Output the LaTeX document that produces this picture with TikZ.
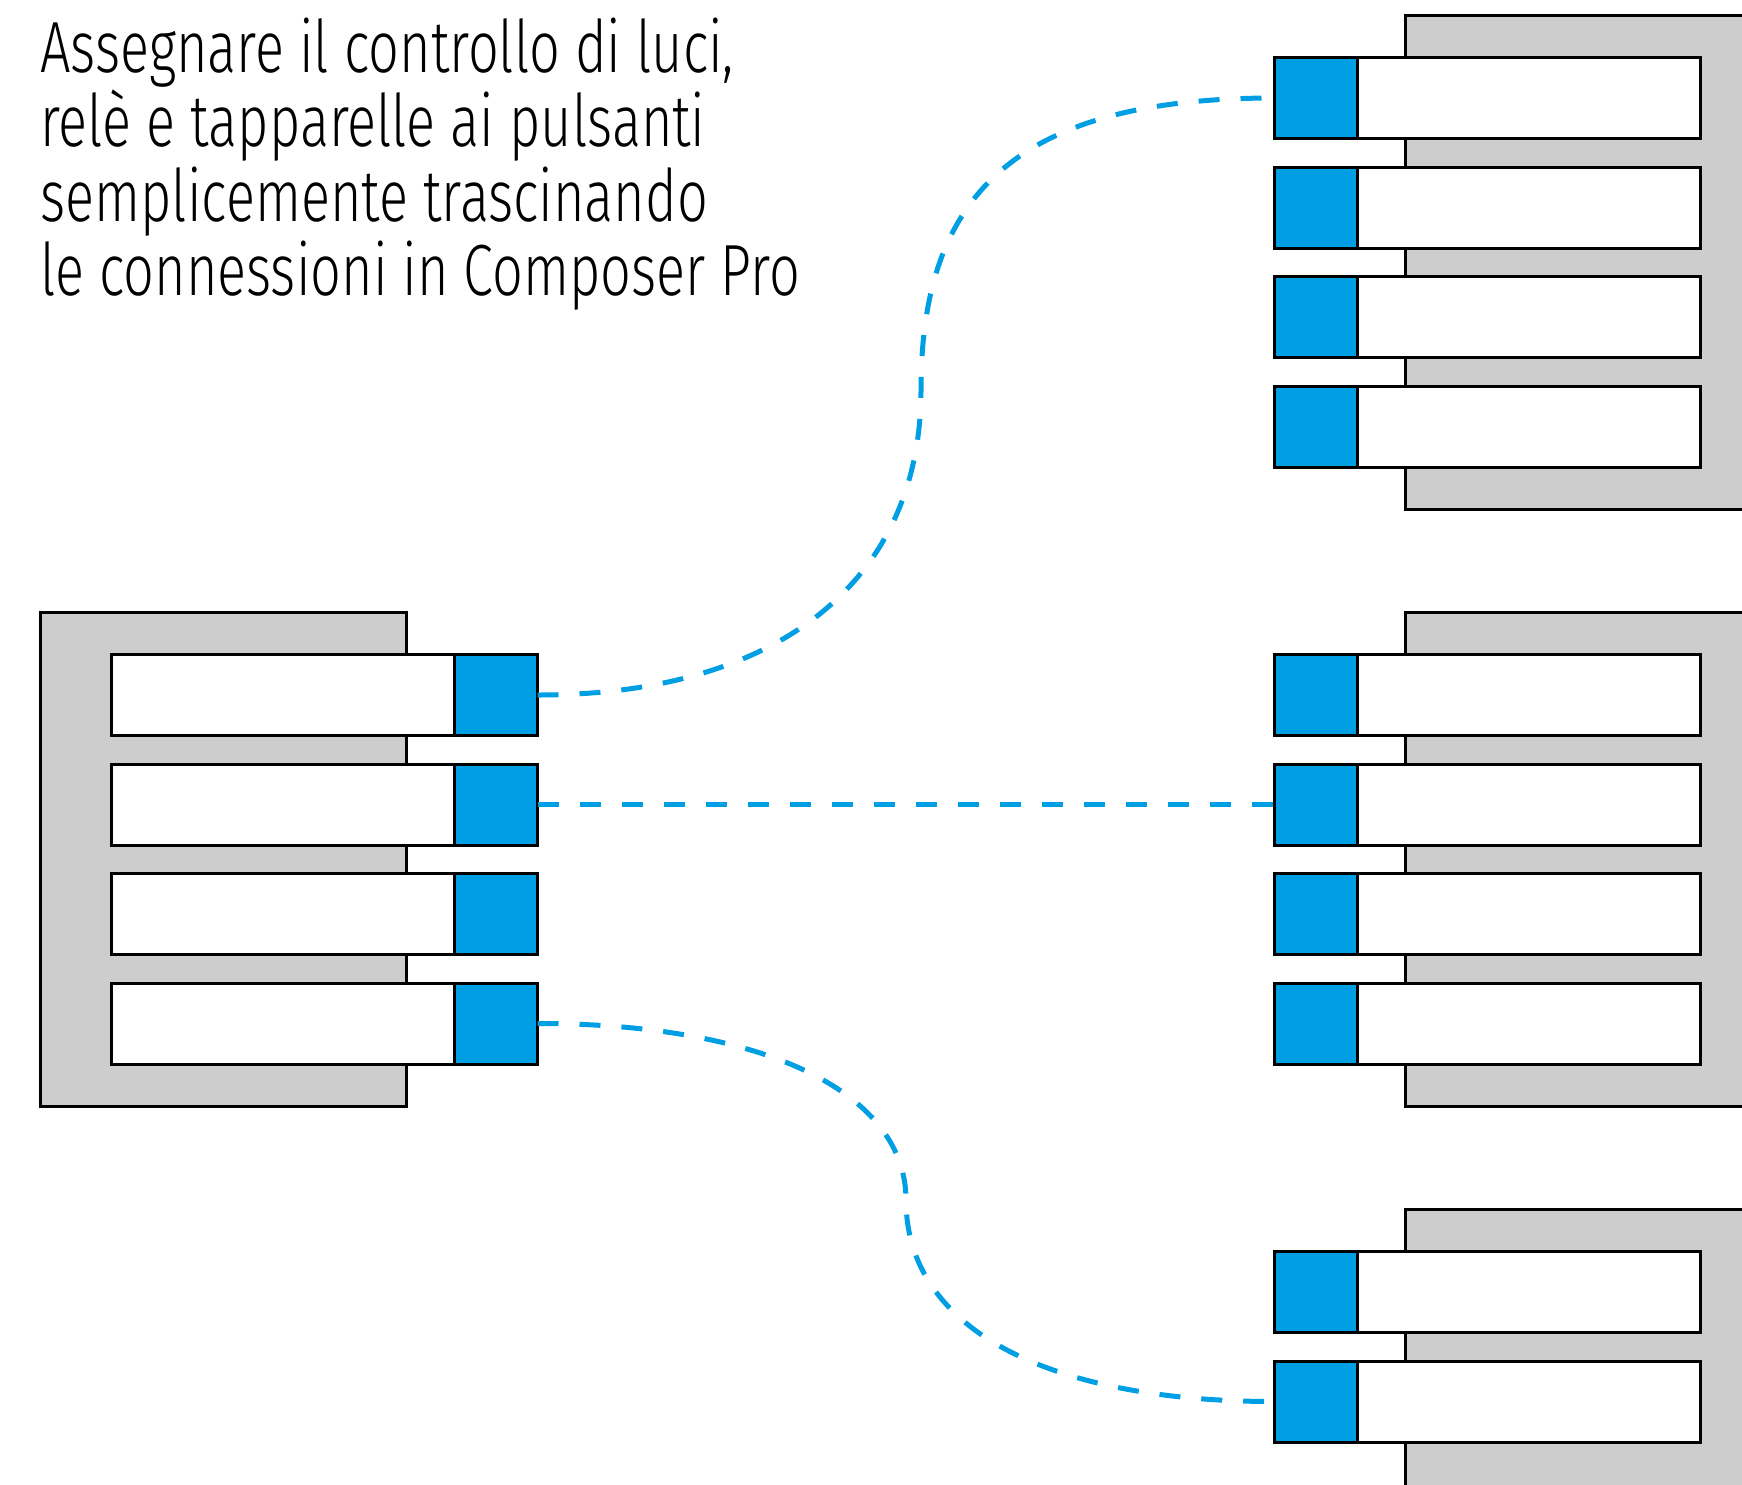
\documentclass[tikz,border=0pt]{standalone}
\usepackage{fontspec}
\IfFontExistsTF{Fira Sans Light}
  {\setmainfont{Fira Sans Light}[FakeStretch=0.745]}
  {\setmainfont{Fira Sans}[FakeStretch=0.745]}
\definecolor{cblue}{HTML}{009FE3}
\definecolor{cgray}{HTML}{CDCDCD}
\tikzset{
  frame/.style={fill=cgray, draw=black, line width=3pt},
  whitebar/.style={rectangle, anchor=north west, inner sep=0pt, outer sep=0pt, minimum width=343pt, minimum height=81pt, fill=white, draw=black, line width=3pt},
  bluebox/.style={rectangle, anchor=north west, inner sep=0pt, outer sep=0pt, minimum width=83pt, minimum height=81pt, fill=cblue, draw=black, line width=3pt},
  conn/.style={draw=cblue, line width=5pt, dash pattern=on 21pt off 21pt},
  txt/.style={anchor=base west, inner sep=0pt, font=\fontsize{72.5}{75}\selectfont}
}
\begin{document}
\begin{tikzpicture}[x=1pt,y=-1pt]
\useasboundingbox (0,0) rectangle (1742,1484);
\begin{scope}
\clip (0,0) rectangle (1742,1484);
% frames
\draw[frame] (40,612.5) rectangle (406.5,1106.5);
\draw[frame] (1405.5,15.5) rectangle (1770,509.5);
\draw[frame] (1405.5,612.5) rectangle (1770,1106.5);
\draw[frame] (1405.5,1209.5) rectangle (1770,1703.5);
% left module bars
\foreach \i in {1,...,4} {
  \node[whitebar] (Lw\i) at (111.5,{654.5+109.5*(\i-1)}) {};
  \node[bluebox] (L\i) at (454.5,{654.5+109.5*(\i-1)}) {};
}
% right top module
\foreach \i in {1,...,4} {
  \node[whitebar, minimum width=342.5pt] (Tw\i) at (1357.5,{57.5+109.5*(\i-1)}) {};
  \node[bluebox] (T\i) at (1274,{57.5+109.5*(\i-1)}) {};
}
% right middle module
\foreach \i in {1,...,4} {
  \node[whitebar, minimum width=342.5pt] (Mw\i) at (1357.5,{654.5+109.5*(\i-1)}) {};
  \node[bluebox] (M\i) at (1274,{654.5+109.5*(\i-1)}) {};
}
% right bottom module
\foreach \i in {1,2} {
  \node[whitebar, minimum width=342.5pt] (Bw\i) at (1357.5,{1251.5+109.5*(\i-1)}) {};
  \node[bluebox] (B\i) at (1274,{1251.5+109.5*(\i-1)}) {};
}
% connectors
\coordinate (m1) at (921,390);
\coordinate (m3) at (906,1200);
\draw[conn] (L1.east) .. controls +(242,0) and +(0,190) .. (m1)
  .. controls +(0,-190) and +(-264,0) .. (T1.west);
\draw[conn] (L2.east) -- (M2.west);
\draw[conn] (L4.east) .. controls +(232,0) and +(0,-105) .. (m3)
  .. controls +(0,130) and +(-224,0) .. (B2.west);
\end{scope}
% text
\node[txt] (t1) at (40,72) {Assegnare il controllo di luci,};
\node[txt] (t2) at (40,146.6) {relè e tapparelle ai pulsanti};
\node[txt] (t3) at (40,221.2) {semplicemente trascinando};
\node[txt] (t4) at (40,295.8) {le connessioni in Composer Pro};
\end{tikzpicture}
\end{document}
